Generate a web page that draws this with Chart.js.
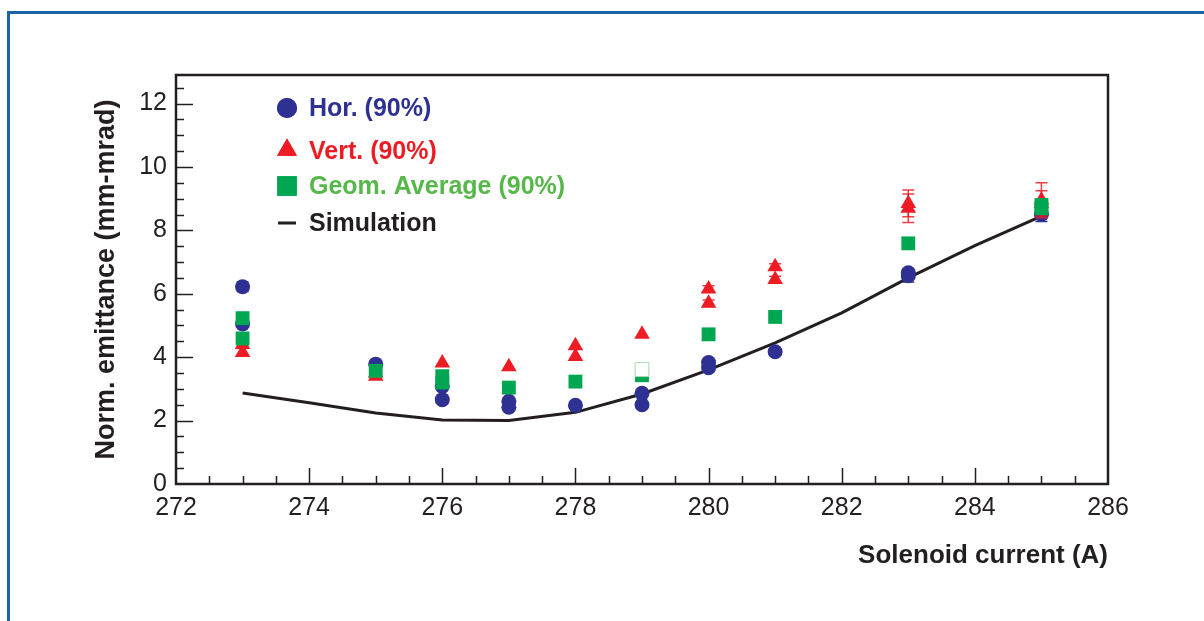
<!DOCTYPE html>
<html>
<head>
<meta charset="utf-8">
<script src="https://cdn.jsdelivr.net/npm/chart.js@4.4.1/dist/chart.umd.min.js"></script>
<style>
  html, body { margin: 0; padding: 0; background: #fff; }
  #wrap { position: relative; width: 1204px; height: 621px; overflow: hidden; }
  #frame { position: absolute; left: 7px; top: 11px; right: -10px; bottom: -10px;
           border-top: 3px solid #1a63a6; border-left: 3px solid #1a63a6; pointer-events: none; }
  canvas { display: block; }
</style>
</head>
<body>
<div id="wrap">
  <canvas id="c" width="1204" height="621"></canvas>
  <div id="frame"></div>
</div>
<script>
// Horizontal emittance (90%)
const horCurrent = [273, 273, 275, 276, 276, 277, 277, 278, 279, 279, 280, 280, 281, 283, 283, 285];
const horEmit    = [6.22, 5.05, 3.78, 3.08, 2.66, 2.61, 2.42, 2.48, 2.86, 2.50, 3.83, 3.67, 4.17, 6.66, 6.57, 8.50];
const horErr     = [0.15, 0, 0, 0, 0, 0, 0, 0, 0, 0, 0, 0, 0, 0, 0.2, 0.22];

// Vertical emittance (90%)
const vertCurrent = [273, 273, 275, 275, 276, 277, 278, 278, 279, 280, 280, 281, 281, 283, 283, 285, 285];
const vertEmit    = [4.40, 4.15, 3.50, 3.40, 3.82, 3.70, 4.36, 4.02, 4.72, 6.15, 5.70, 6.85, 6.45, 8.85, 8.70, 8.95, 8.85];
const vertErr     = [0, 0, 0, 0, 0, 0, 0, 0, 0, 0.1, 0.1, 0.1, 0.1, 0.42, 0.45, 0.55, 0.4];

// Geometric average (90%)
const geomCurrent = [273, 273, 275, 276, 276, 277, 278, 279, 280, 281, 283, 285, 285];
const geomEmit    = [5.23, 4.59, 3.57, 3.40, 3.20, 3.04, 3.23, 3.43, 4.72, 5.27, 7.59, 8.80, 8.70];
const geomOpenCurrent = [279];
const geomOpenEmit    = [3.61];

// Simulation
const simCurrent = [273, 274, 275, 276, 277, 278, 279, 280, 281, 282, 283, 284, 285];
const simEmit    = [2.87, 2.56, 2.24, 2.02, 2.00, 2.26, 2.84, 3.60, 4.45, 5.40, 6.50, 7.52, 8.45];

// Axes
const xMin = 272, xMax = 286, xStep = 2;
const yMin = 0, yMax = 12.9, yStep = 2;
const minorStep = 0.5;

const BLUE = '#2e3192', RED = '#ed1c24', GREEN = '#00a651', GREEN_TEXT = '#55b848', INK = '#231f20';
const FONT = '"Liberation Sans", Arial, Helvetica, sans-serif';

const pts = (xs, ys) => xs.map((x, i) => ({ x, y: ys[i] }));

// Vertical error bars with caps, drawn together with their own dataset
const errorBars = {
  id: 'errorBars',
  afterDatasetDraw(chart, args) {
    const ds = chart.data.datasets[args.index];
    if (!ds.errors) return;
    const { ctx } = chart, xs = chart.scales.x, ys = chart.scales.y;
    ctx.save();
    ctx.strokeStyle = ds.errorColor;
    ctx.lineWidth = 1.5;
    ds.data.forEach((p, i) => {
      const e = ds.errors[i];
      if (!e) return;
      const px = xs.getPixelForValue(p.x);
      const top = ys.getPixelForValue(p.y + e), bot = ys.getPixelForValue(p.y - e);
      ctx.beginPath();
      ctx.moveTo(px, top); ctx.lineTo(px, bot);
      ctx.moveTo(px - 6, top); ctx.lineTo(px + 6, top);
      ctx.moveTo(px - 6, bot); ctx.lineTo(px + 6, bot);
      ctx.stroke();
    });
    ctx.restore();
  }
};

// Box around the plot area with inward major/minor ticks on the left and bottom
const plotFrame = {
  id: 'plotFrame',
  afterDraw(chart) {
    const { ctx, chartArea: a } = chart, xs = chart.scales.x, ys = chart.scales.y;
    ctx.save();
    ctx.strokeStyle = INK;
    ctx.lineWidth = 1.5;
    ctx.beginPath();
    for (let v = xMin + minorStep; v < xMax - 1e-9; v += minorStep) {
      const px = Math.round(xs.getPixelForValue(v)) + 0.5;
      const len = Math.abs(v % xStep) < 1e-9 ? 16 : 8;
      ctx.moveTo(px, a.bottom); ctx.lineTo(px, a.bottom - len);
    }
    for (let v = yMin + minorStep; v < yMax - 1e-9; v += minorStep) {
      const py = Math.round(ys.getPixelForValue(v)) + 0.5;
      const len = Math.abs(v % yStep) < 1e-9 ? 17 : 8;
      ctx.moveTo(a.left, py); ctx.lineTo(a.left + len, py);
    }
    ctx.stroke();
    ctx.lineWidth = 2.5;
    ctx.strokeRect(a.left, a.top, a.right - a.left, a.bottom - a.top);
    ctx.restore();
  }
};

// Legend in the upper-left corner of the plot
const markerLegend = {
  id: 'markerLegend',
  afterDraw(chart) {
    const { ctx, chartArea: a } = chart;
    const rows = [
      { ds: 0, dy: 33, r: 10 },
      { ds: 1, dy: 76, r: 11.5, my: 75 },
      { ds: 2, dy: 111, r: 13.8 },
      { ds: 4, dy: 148 }
    ];
    ctx.save();
    ctx.font = 'bold 25px ' + FONT;
    ctx.textBaseline = 'middle';
    rows.forEach(row => {
      const ds = chart.data.datasets[row.ds];
      const mx = a.left + 111, y = a.top + row.dy;
      if (ds.showLine) {
        ctx.strokeStyle = ds.borderColor;
        ctx.lineWidth = 3;
        ctx.beginPath(); ctx.moveTo(mx - 9, y); ctx.lineTo(mx + 9, y); ctx.stroke();
      } else {
        ctx.fillStyle = ds.backgroundColor;
        Chart.helpers.drawPoint(ctx, { pointStyle: ds.pointStyle, radius: row.r, rotation: 0, borderWidth: 0 },
          mx, a.top + (row.my || row.dy));
        ctx.fill();
      }
      ctx.fillStyle = ds.legendColor;
      ctx.fillText(ds.label, a.left + 133, y + 1);
    });
    ctx.restore();
  }
};

Chart.defaults.font.family = FONT;
Chart.defaults.color = INK;

new Chart(document.getElementById('c'), {
  type: 'scatter',
  data: {
    datasets: [
      { label: 'Hor. (90%)', data: pts(horCurrent, horEmit), errors: horErr, errorColor: BLUE,
        pointStyle: 'circle', pointRadius: 7.5, backgroundColor: BLUE, borderWidth: 0,
        legendColor: BLUE, order: 3 },
      { label: 'Vert. (90%)', data: pts(vertCurrent, vertEmit), errors: vertErr, errorColor: 'rgba(237,28,36,0.85)',
        pointStyle: 'triangle', pointRadius: 9, backgroundColor: RED, borderWidth: 0,
        legendColor: RED, order: 2 },
      { label: 'Geom. Average (90%)', data: pts(geomCurrent, geomEmit),
        pointStyle: 'rect', pointRadius: 9.8, backgroundColor: GREEN, borderWidth: 0,
        legendColor: GREEN_TEXT, order: 1 },
      { label: 'Geom. Average (90%)', data: pts(geomOpenCurrent, geomOpenEmit),
        pointStyle: 'rect', pointRadius: 9.8, backgroundColor: '#ffffff', borderColor: '#a8dab3', borderWidth: 1,
        legendColor: GREEN_TEXT, order: 0 },
      { label: 'Simulation', data: pts(simCurrent, simEmit), showLine: true,
        borderColor: INK, borderWidth: 3, pointRadius: 0, backgroundColor: INK,
        legendColor: INK, order: 4 }
    ]
  },
  options: {
    responsive: false,
    animation: false,
    events: [],
    layout: { padding: { left: 79, right: 96, top: 75, bottom: 41 } },
    plugins: { legend: { display: false }, tooltip: { enabled: false } },
    scales: {
      x: {
        type: 'linear', min: xMin, max: xMax,
        grid: { display: false, drawTicks: false },
        border: { display: false },
        ticks: { stepSize: xStep, includeBounds: false, padding: 9, color: INK,
                 font: { size: 25 } },
        title: { display: true, text: 'Solenoid current (A)', align: 'end', color: INK,
                 font: { size: 26, weight: 'bold' }, padding: { top: 0, bottom: 9 } },
        afterFit(scale) { scale.height = 96; }
      },
      y: {
        type: 'linear', min: yMin, max: yMax,
        grid: { display: false, drawTicks: false },
        border: { display: false },
        ticks: { stepSize: yStep, includeBounds: false, padding: 9, color: INK,
                 font: { size: 25 } },
        title: { display: true, text: 'Norm. emittance (mm-mrad)', color: INK,
                 font: { size: 27, weight: 'bold' }, padding: { top: 11, bottom: 0 } },
        afterFit(scale) { scale.width = 97; }
      }
    }
  },
  plugins: [errorBars, plotFrame, markerLegend]
});
</script>
</body>
</html>
